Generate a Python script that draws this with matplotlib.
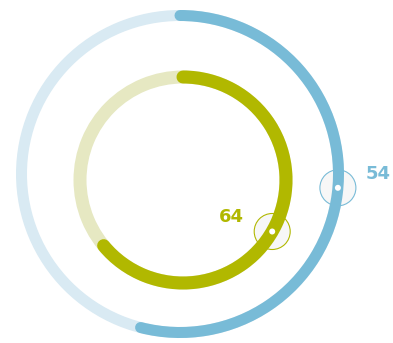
import numpy as np
import matplotlib.pyplot as plt
from matplotlib.patches import Arc, Circle

# ring values (percent)
values = [54, 64]
labels = ['54', '64']
colors = ['#78bbd7', '#b1b800']
track_colors = ['#d9eaf3', '#e6e8c2']

# ring geometry in pixels (center x, center y, radius, stroke width px)
centers = [(180, 174), (183, 180)]
radii = [158.5, 103]
widths = [11, 13]
marker_angle = [95, 120]  # degrees clockwise from top
label_side = [1, -1]      # label right of marker for outer ring, left for inner

fig = plt.figure(figsize=(3.93, 3.43), dpi=100)
ax = fig.add_axes([0, 0, 1, 1])
ax.set_xlim(0, 393)
ax.set_ylim(343, 0)
ax.set_aspect('equal')
ax.axis('off')

px = 72 / 100  # pixels -> points

for i, v in enumerate(values):
    cx, cy = centers[i]
    r = radii[i]
    lw = widths[i] * px
    # background track
    ax.add_patch(Arc((cx, cy), 2 * r, 2 * r, theta1=0, theta2=360,
                     color=track_colors[i], lw=lw, zorder=1))
    # marker circle on the arc (drawn under the arc)
    phi = np.deg2rad(marker_angle[i])
    mx = cx + r * np.sin(phi)
    my = cy - r * np.cos(phi)
    ax.add_patch(Circle((mx, my), 18, facecolor='#f7f7f7', edgecolor=colors[i],
                        lw=1.1 * px, zorder=2))
    # value arc, clockwise from top
    arc = Arc((cx, cy), 2 * r, 2 * r, theta1=-90, theta2=-90 + 360 * v / 100,
              color=colors[i], lw=lw, zorder=3)
    arc.set_capstyle('round')
    ax.add_patch(arc)
    ax.add_patch(Circle((mx, my), 3, facecolor='white', edgecolor='none', zorder=4))
    # label
    side = label_side[i]
    ax.text(mx + side * 28, my - 14, labels[i], color=colors[i],
            fontsize=18 * px, fontweight='bold', family='DejaVu Sans',
            ha='left' if side > 0 else 'right', va='center', zorder=5)

fig.savefig('out.png', dpi=100)
